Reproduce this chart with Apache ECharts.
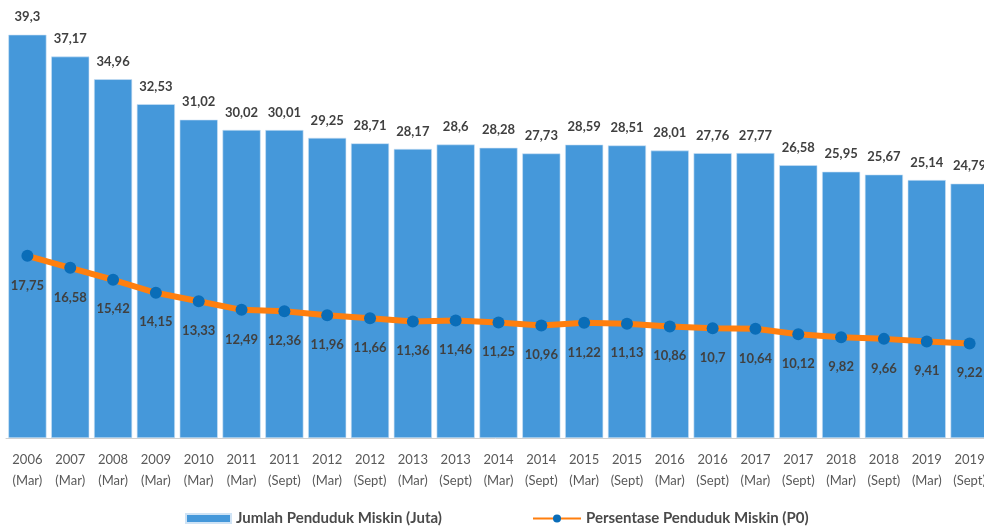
<!DOCTYPE html>
<html>
<head>
<meta charset="utf-8">
<script src="https://cdn.jsdelivr.net/npm/echarts@6/dist/echarts.min.js"></script>
<style>html,body{margin:0;padding:0;background:#fff}#c{width:984px;height:529px}</style>
</head>
<body>
<div id="c"></div>
<script>
const years = ['2006','2007','2008','2009','2010','2011','2011','2012','2012','2013','2013','2014','2014','2015','2015','2016','2016','2017','2017','2018','2018','2019','2019'];
const periods = ['Mar','Mar','Mar','Mar','Mar','Mar','Sept','Mar','Sept','Mar','Sept','Mar','Sept','Mar','Sept','Mar','Sept','Mar','Sept','Mar','Sept','Mar','Sept'];
const jumlah = [39.3, 37.17, 34.96, 32.53, 31.02, 30.02, 30.01, 29.25, 28.71, 28.17, 28.6, 28.28, 27.73, 28.59, 28.51, 28.01, 27.76, 27.77, 26.58, 25.95, 25.67, 25.14, 24.79];
const persen = [17.75, 16.58, 15.42, 14.15, 13.33, 12.49, 12.36, 11.96, 11.66, 11.36, 11.46, 11.25, 10.96, 11.22, 11.13, 10.86, 10.7, 10.64, 10.12, 9.82, 9.66, 9.41, 9.22];
const categories = years.map((y, i) => y + '\n(' + periods[i] + ')');
const seriesNames = ['Jumlah Penduduk Miskin (Juta)', 'Persentase Penduduk Miskin (P0)'];

const fmt = p => String(p.value).replace('.', ',');
const FONT = 'Lato';
const legendText = { color: '#4a4a4a', fontSize: 15, fontWeight: 'bold', fontFamily: FONT };
const chart = echarts.init(document.getElementById('c'));
chart.setOption({
  animation: false,
  textStyle: { fontFamily: FONT },
  grid: { left: 6, width: 985, top: 7, bottom: 91, outerBoundsMode: 'none', containLabel: false },
  xAxis: {
    type: 'category',
    data: categories,
    axisLine: { lineStyle: { color: '#d0d0d0', width: 1 } },
    axisTick: { show: false },
    axisLabel: { color: '#595959', fontSize: 13, lineHeight: 21, margin: 11, interval: 0, fontFamily: FONT }
  },
  yAxis: {
    type: 'value', min: 0, max: 42, show: false, splitLine: { show: false }
  },
  legend: [
    { top: 509, left: 183, padding: [2, 2], itemWidth: 45, itemHeight: 9, itemGap: 4, textStyle: legendText, data: [{ name: seriesNames[0], icon: 'rect' }] },
    { top: 509, left: 530, padding: [2, 2], itemWidth: 48, itemHeight: 10, itemGap: 4, textStyle: legendText, data: [seriesNames[1]] }
  ],
  series: [
    {
      name: seriesNames[0],
      type: 'bar',
      data: jumlah,
      barCategoryGap: '11%',
      itemStyle: { color: '#4598DA', borderColor: '#cfe3f5', borderWidth: 0.6 },
      label: { show: true, position: 'top', distance: 11, formatter: fmt, color: '#404040', fontWeight: 'bold', fontSize: 13, fontFamily: FONT }
    },
    {
      name: seriesNames[1],
      type: 'line',
      data: persen,
      symbol: 'circle',
      symbolSize: 12,
      lineStyle: { color: '#FF7F0E', width: 6 },
      itemStyle: { color: '#0A6DB8' },
      label: { show: true, position: 'bottom', distance: 17, formatter: fmt, color: '#404040', fontWeight: 'bold', fontSize: 13, fontFamily: FONT },
      z: 5
    }
  ]
});
</script>
</body>
</html>
